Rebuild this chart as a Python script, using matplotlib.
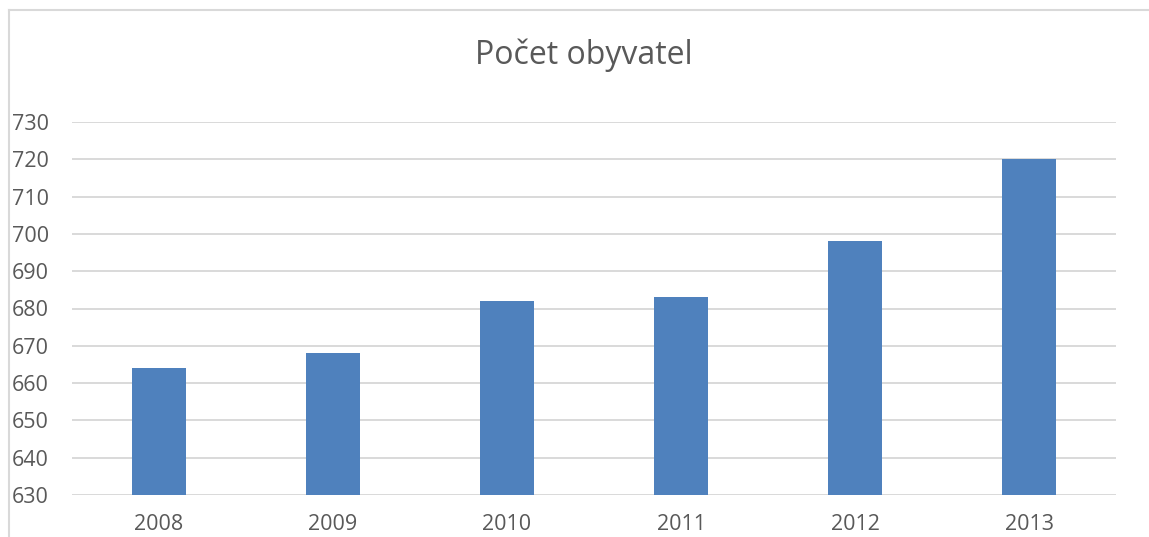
import matplotlib
matplotlib.use("Agg")
import matplotlib.pyplot as plt
from matplotlib.lines import Line2D

plt.rcParams['font.family'] = ['Open Sans', 'DejaVu Sans']

# data
years = ['2008', '2009', '2010', '2011', '2012', '2013']
population = [664, 668, 682, 683, 698, 720]
y_ticks = [630, 640, 650, 660, 670, 680, 690, 700, 710, 720, 730]

text_color = '#595959'
grid_color = '#D9D9D9'
bar_color = '#4F81BD'

fig = plt.figure(figsize=(11.49, 5.37), dpi=100)
ax = fig.add_axes([72 / 1149, 1 - 495 / 537, (1116 - 72) / 1149, (495 - 122) / 537])

x = range(len(years))
ax.bar(x, population, width=0.31, color=bar_color, zorder=3)

ax.set_xlim(-0.5, len(years) - 0.5)
ax.set_ylim(630, 730)
ax.set_yticks(y_ticks)
ax.set_xticks(list(x))
ax.set_xticklabels(years)

ax.yaxis.grid(True, color=grid_color, linewidth=1.4, zorder=0)
ax.set_axisbelow(True)
for s in ax.spines.values():
    s.set_visible(False)
ax.tick_params(axis='both', length=0, labelsize=15.5, colors=text_color)
ax.tick_params(axis='y', pad=16.5)
ax.tick_params(axis='x', pad=14)

fig.text(584 / 1149, 1 - 55 / 537, 'Počet obyvatel', ha='center', va='center',
         fontsize=23, color=text_color)

# chart border (cut off at right and bottom)
fig.add_artist(Line2D([9 / 1149, 9 / 1149], [0, 1 - 9.5 / 537],
                      transform=fig.transFigure, color=grid_color, linewidth=1.5))
fig.add_artist(Line2D([9 / 1149, 1], [1 - 9.5 / 537, 1 - 9.5 / 537],
                      transform=fig.transFigure, color=grid_color, linewidth=1.5))

fig.savefig('out.png', dpi=100)
